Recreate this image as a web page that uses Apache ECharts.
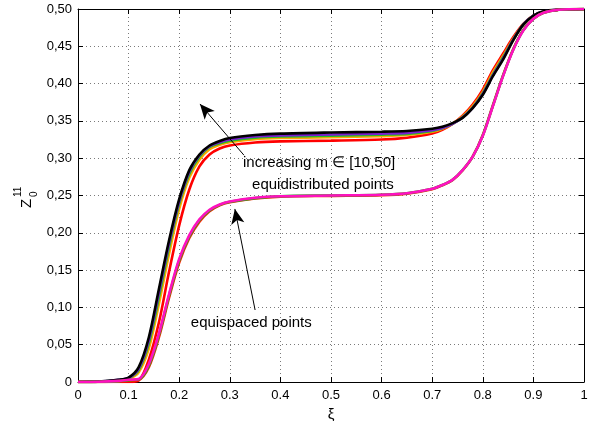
<!DOCTYPE html>
<html>
<head>
<meta charset="utf-8">
<script src="https://cdn.jsdelivr.net/npm/echarts@6/dist/echarts.min.js"></script>
<style>
  html, body { margin: 0; padding: 0; background: #fff; }
  #chart { width: 594px; height: 421px; }
</style>
</head>
<body>
<div id="chart"></div>
<script>
// abscissa xi shared by every curve
var xs = [0, 0.04, 0.08, 0.10, 0.12, 0.14, 0.16, 0.18, 0.20, 0.22, 0.24, 0.26, 0.28, 0.30, 0.35, 0.40,
          0.50, 0.60, 0.65, 0.70, 0.72, 0.74, 0.76, 0.78, 0.80, 0.82, 0.84, 0.86, 0.88, 0.90, 0.92, 0.95, 1.0];

// equidistributed points, m = 10..50
var eqdM10 = [0, 0, 0, 0, 0.002, 0.03, 0.08, 0.148, 0.21, 0.258, 0.289, 0.305, 0.313, 0.317, 0.321, 0.3225,
              0.3235, 0.325, 0.3275, 0.333, 0.338, 0.346, 0.357, 0.372, 0.392, 0.418, 0.44, 0.462, 0.48, 0.491, 0.496, 0.499, 0.5];
var eqdM20 = [0, 0.0003, 0.002, 0.004, 0.013, 0.045, 0.105, 0.172, 0.232, 0.274, 0.298, 0.312, 0.318, 0.3215, 0.3255, 0.327,
              0.328, 0.3295, 0.331, 0.3355, 0.3395, 0.346, 0.356, 0.370, 0.389, 0.415, 0.437, 0.46, 0.479, 0.491, 0.496, 0.499, 0.5];
var eqdM30 = [0, 0.0004, 0.0025, 0.005, 0.016, 0.052, 0.114, 0.181, 0.239, 0.279, 0.302, 0.315, 0.320, 0.3235, 0.3275, 0.329,
              0.330, 0.3315, 0.3325, 0.3365, 0.340, 0.346, 0.355, 0.368, 0.387, 0.412, 0.435, 0.459, 0.479, 0.491, 0.496, 0.499, 0.5];
var eqdM40 = [0, 0.0005, 0.003, 0.0055, 0.018, 0.056, 0.12, 0.186, 0.242, 0.282, 0.304, 0.316, 0.3215, 0.325, 0.329, 0.3305,
              0.3318, 0.333, 0.334, 0.3375, 0.3405, 0.346, 0.3545, 0.3675, 0.386, 0.411, 0.4335, 0.4585, 0.479, 0.491, 0.4965, 0.499, 0.5];
var eqdM50 = [0, 0.0005, 0.003, 0.006, 0.02, 0.06, 0.125, 0.19, 0.245, 0.284, 0.305, 0.317, 0.323, 0.327, 0.331, 0.333,
              0.3345, 0.3355, 0.3365, 0.3395, 0.342, 0.347, 0.354, 0.367, 0.385, 0.41, 0.432, 0.458, 0.479, 0.491, 0.497, 0.499, 0.5];

// equispaced points
var eqsRed = [0, 0.0001, 0.0008, 0.002, 0.003, 0.02, 0.06, 0.113, 0.16, 0.193, 0.215, 0.229, 0.237, 0.241, 0.246, 0.2485,
              0.2495, 0.2505, 0.2525, 0.2585, 0.2635, 0.2705, 0.2835, 0.302, 0.331, 0.371, 0.411, 0.446, 0.472, 0.487, 0.495, 0.499, 0.5];
var eqsGreen = [0, 0.0002, 0.0012, 0.0025, 0.0035, 0.022, 0.063, 0.116, 0.163, 0.195, 0.217, 0.230, 0.2375, 0.2415, 0.2465, 0.249,
                0.250, 0.251, 0.253, 0.259, 0.264, 0.271, 0.284, 0.302, 0.3305, 0.3705, 0.4105, 0.4455, 0.4715, 0.487, 0.495, 0.499, 0.5];
var eqsMagenta = [0, 0.0003, 0.0015, 0.003, 0.004, 0.024, 0.065, 0.118, 0.165, 0.197, 0.218, 0.231, 0.238, 0.242, 0.247, 0.249,
                  0.250, 0.251, 0.253, 0.259, 0.264, 0.271, 0.284, 0.302, 0.33, 0.37, 0.41, 0.445, 0.471, 0.487, 0.495, 0.499, 0.5];

function pts(arr) {
    return xs.map(function (x, i) { return [x, arr[i]]; });
}

var font = 'Liberation Sans, Arial, Helvetica, sans-serif';
var chart = echarts.init(document.getElementById('chart'), null, { renderer: 'canvas' });

function curve(name, arr, color) {
    return {
        name: name,
        type: 'line',
        data: pts(arr),
        showSymbol: false,
        smooth: 0.3,
        lineStyle: { color: color, width: 2.6 },
        silent: true,
        animation: false
    };
}

var dotted = { show: true, lineStyle: { color: '#7a7a7a', type: [1, 3], width: 1 } };
var tick = { show: true, inside: true, length: 5, lineStyle: { color: '#000' } };
var line = { show: true, onZero: false, lineStyle: { color: '#000', width: 1 } };

var option = {
    animation: false,
    grid: { left: 78, right: 10, top: 9, bottom: 39, containLabel: false, outerBoundsMode: 'none' },
    xAxis: [{
        type: 'value', min: 0, max: 1, interval: 0.1,
        name: 'ξ', nameLocation: 'middle', nameGap: 24,
        nameTextStyle: { fontFamily: font, fontSize: 15, color: '#000' },
        axisLine: line, axisTick: tick, splitLine: dotted,
        axisLabel: {
            color: '#000', fontFamily: font, fontSize: 13, margin: 7,
            formatter: function (v) { return (v === 0 || v === 1) ? String(v) : v.toFixed(1); }
        }
    }, {
        type: 'value', min: 0, max: 1, interval: 0.1, position: 'top',
        axisLine: line, axisTick: tick, splitLine: { show: false }, axisLabel: { show: false }
    }],
    yAxis: [{
        type: 'value', min: 0, max: 0.5, interval: 0.05,
        axisLine: line, axisTick: tick, splitLine: dotted,
        axisLabel: {
            color: '#000', fontFamily: font, fontSize: 13, margin: 6,
            formatter: function (v) { return v === 0 ? '0' : v.toFixed(2).replace('.', ','); }
        }
    }, {
        type: 'value', min: 0, max: 0.5, interval: 0.05, position: 'right',
        axisLine: line, axisTick: tick, splitLine: { show: false }, axisLabel: { show: false }
    }],
    series: [
        curve('m=10', eqdM10, '#ff0000'),
        curve('m=20', eqdM20, '#ffa500'),
        curve('m=30', eqdM30, '#22c022'),
        curve('m=40', eqdM40, '#7a1fd0'),
        curve('m=50', eqdM50, '#000000'),
        curve('equispaced red', eqsRed, '#ff2000'),
        curve('equispaced green', eqsGreen, '#20b020'),
        curve('equispaced magenta', eqsMagenta, '#ff10c0'),
        {
            name: 'arrows',
            type: 'line',
            data: [],
            silent: true,
            markLine: {
                silent: true,
                animation: false,
                symbol: ['none', 'arrow'],
                symbolSize: [10, 15],
                label: { show: false },
                lineStyle: { color: '#000', width: 1, type: 'solid' },
                data: [
                    [{ coord: [0.328, 0.304] }, { coord: [0.241, 0.3727] }],
                    [{ coord: [0.350, 0.0965] }, { coord: [0.310, 0.232] }]
                ]
            }
        }
    ]
};

chart.setOption(option);

// annotation texts placed in data coordinates
var notes = [
    { text: 'increasing m ∈ [10,50]', at: [0.326, 0.2936] },
    { text: 'equidistributed points', at: [0.344, 0.264] },
    { text: 'equispaced points', at: [0.223, 0.079] }
];
var graphics = notes.map(function (n) {
    var p = chart.convertToPixel({ gridIndex: 0 }, n.at);
    return {
        type: 'text', x: p[0], y: p[1], silent: true,
        style: { text: n.text, fontFamily: font, fontSize: 15, fill: '#000',
                 textAlign: 'left', textVerticalAlign: 'middle', verticalAlign: 'middle' }
    };
});

// y axis name: Z with superscript 11 and subscript 0, rotated
graphics.push({
    type: 'group', x: 27, y: 208, rotation: Math.PI / 2, silent: true,
    children: [
        { type: 'text', x: 0, y: 0, style: { text: 'Z', fontFamily: font, fontSize: 15, fill: '#000', verticalAlign: 'middle', align: 'left' } },
        { type: 'text', x: 11, y: -9, style: { text: '11', fontFamily: font, fontSize: 10, fill: '#000', verticalAlign: 'middle', align: 'left' } },
        { type: 'text', x: 11, y: 7, style: { text: '0', fontFamily: font, fontSize: 10, fill: '#000', verticalAlign: 'middle', align: 'left' } }
    ]
});

chart.setOption({ graphic: graphics });
</script>
</body>
</html>
